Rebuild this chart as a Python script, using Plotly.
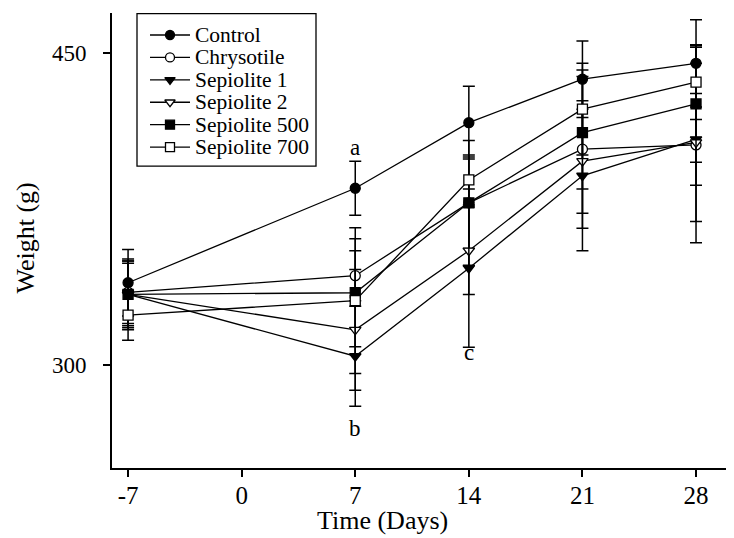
import plotly.graph_objects as go

days = [-7, 7, 14, 21, 28]
x_ticks = [-7, 0, 7, 14, 21, 28]

control = [339.6, 385, 416.5, 437.4, 445]
control_sd = [16, 13, 17.5, 18.4, 21]
chrysotile = [335, 343, 378, 403.8, 405.8]
chrysotile_sd = [15, 12, 22, 38, 47]
sep1 = [334, 304.3, 346.6, 391, 408.5]
sep1_sd = [16, 24, 38, 36, 22]
sep2 = [334, 317, 355, 398, 407]
sep2_sd = [15, 29, 21, 25, 38]
sep500 = [334, 334.8, 378, 411.7, 425.5]
sep500_sd = [17, 26, 30, 27, 28]
sep700 = [324, 331, 389, 423, 436]
sep700_sd = [12, 35, 12, 22, 18]

names = ["Control", "Chrysotile", "Sepiolite 1", "Sepiolite 2", "Sepiolite 500", "Sepiolite 700"]
values = [control, chrysotile, sep1, sep2, sep500, sep700]
sds = [control_sd, chrysotile_sd, sep1_sd, sep2_sd, sep500_sd, sep700_sd]
symbols = ["circle", "circle", "triangle-down", "triangle-down", "square", "square"]
fills = ["black", "white", "black", "white", "black", "white"]

letters = ["a", "b", "c"]
letter_x = [7, 7, 14]
letter_y = [404.8, 269.7, 306]

x_title = "Time (Days)"
y_title = "Weight (g)"

FONT = "Liberation Serif"
OFF = 8                      # default body margin of the html page
PAGE_W, PAGE_H = 734, 538
W, H = PAGE_W - OFF, PAGE_H - OFF
# plot area in page pixels
PX0, PX1, PY0, PY1 = 112, PAGE_W, 13, 467.7
L, R, T, B = PX0 - OFF, 0, PY0 - OFF, PAGE_H - PY1

fig = go.Figure()
for n, v, s, sym, fc in zip(names, values, sds, symbols, fills):
    fig.add_trace(go.Scatter(
        x=days, y=v, name=n, mode="lines+markers", showlegend=False,
        line=dict(color="black", width=1.3),
        marker=dict(symbol=sym, size=10, color=fc, line=dict(color="black", width=1.3)),
        error_y=dict(type="data", array=s, visible=True, color="black", thickness=1.5, width=6),
    ))

# custom legend drawn on an overlay axis measured in page pixels
leg_x0, leg_x1, leg_top, leg_bot = 137, 316, 13.6, 166
row0, row_gap = 35, 22.4
for i, (n, sym, fc) in enumerate(zip(names, symbols, fills)):
    ry = row0 + i * row_gap
    fig.add_trace(go.Scatter(
        x=[150, 190], y=[ry, ry], mode="lines", showlegend=False, hoverinfo="skip",
        line=dict(color="black", width=1.3), xaxis="x2", yaxis="y2",
    ))
    fig.add_trace(go.Scatter(
        x=[170], y=[ry], mode="markers", showlegend=False, hoverinfo="skip",
        marker=dict(symbol=sym, size=9, color=fc, line=dict(color="black", width=1.3)),
        xaxis="x2", yaxis="y2",
    ))
    fig.add_annotation(x=193, y=ry, xref="x2", yref="y2", text=n, showarrow=False,
                       xanchor="left", yanchor="middle",
                       font=dict(family=FONT, size=21.5, color="black"))
fig.add_shape(type="rect", xref="x2", yref="y2", x0=leg_x0, x1=leg_x1, y0=leg_top, y1=leg_bot,
              line=dict(color="black", width=1.3), fillcolor="rgba(0,0,0,0)")

for t, xx, yy in zip(letters, letter_x, letter_y):
    fig.add_annotation(x=xx, y=yy, text=t, showarrow=False,
                       font=dict(family=FONT, size=23, color="black"))

# axis titles (paper coordinates, shifted in pixels)
fig.add_annotation(x=(382 - PX0) / (PX1 - PX0), xref="paper", y=0, yref="paper",
                   yshift=-(520 - PY1), text=x_title, showarrow=False,
                   xanchor="center", yanchor="middle",
                   font=dict(family=FONT, size=26, color="black"))
fig.add_annotation(x=0, xref="paper", xshift=25 - PX0, y=0.5, yref="paper", yshift=2,
                   text=y_title, showarrow=False, textangle=-90,
                   xanchor="center", yanchor="middle",
                   font=dict(family=FONT, size=26, color="black"))

fig.update_layout(
    width=W, height=H,
    margin=dict(l=L, r=R, t=T, b=B),
    plot_bgcolor="white", paper_bgcolor="white",
    font=dict(family=FONT, color="black", size=22),
    showlegend=False,
    xaxis2=dict(overlaying="x", range=[PX0, PX1], visible=False, fixedrange=True),
    yaxis2=dict(overlaying="y", range=[PY1, PY0], visible=False, fixedrange=True),
)
fig.layout.xaxis.update(
    range=[-7.99, 30.34], tickvals=x_ticks, ticktext=[str(t) for t in x_ticks],
    showline=True, linecolor="black", linewidth=2, ticks="outside", ticklen=7,
    tickwidth=1.5, tickcolor="black", showgrid=False, zeroline=False,
    tickfont=dict(size=25), automargin=False, ticklabelstandoff=-3,
)
fig.layout.yaxis.update(
    range=[250.6, 469.2], tickvals=[300, 450], ticktext=["300", "450"],
    showline=True, linecolor="black", linewidth=2, ticks="outside", ticklen=7,
    tickwidth=1.5, tickcolor="black", showgrid=False, zeroline=False,
    tickfont=dict(size=23), automargin=False, ticklabelstandoff=12,
)

fig.write_html("out.html")
